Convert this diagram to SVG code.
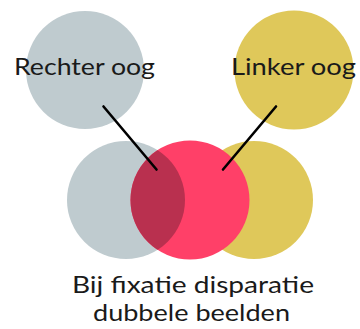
<svg xmlns="http://www.w3.org/2000/svg" width="360" height="329" viewBox="0 0 360 329">
<style>
.gray{fill:#BFCBCF}
.yellow{fill:#DFC85A}
.pink{fill:#FF4068}
.ovl{fill:#B9304F}
.lbl{font-family:Lato,"Open Sans","Liberation Sans",sans-serif;font-size:23px;fill:#1a1a1a}
.conn{stroke:#000;stroke-width:2.6;stroke-linecap:round;fill:none}
</style>
<defs>
<clipPath id="pinkClip"><circle cx="190" cy="200" r="59.5"/></clipPath>
</defs>
<rect width="360" height="329" fill="#fff"/>
<g id="right-eye">
<circle class="gray" cx="85" cy="70" r="59"/>
</g>
<g id="left-eye">
<circle class="yellow" cx="294" cy="70" r="59.5"/>
</g>
<g id="fused-gray">
<circle class="gray" cx="126" cy="200" r="59"/>
</g>
<g id="fused-yellow">
<circle class="yellow" cx="254" cy="200" r="59"/>
</g>
<g id="fused-pink">
<circle class="pink" cx="190" cy="200" r="59.5"/>
<circle class="ovl" cx="126" cy="200" r="59" clip-path="url(#pinkClip)"/>
</g>
<g id="connectors">
<line class="conn" x1="103.5" y1="106.5" x2="156.5" y2="169.5"/>
<line class="conn" x1="276" y1="106.5" x2="223" y2="169.5"/>
</g>
<g id="label-right">
<text class="lbl" x="84.5" y="75" text-anchor="middle" textLength="141" lengthAdjust="spacingAndGlyphs">Rechter oog</text>
</g>
<g id="label-left">
<text class="lbl" x="293.5" y="75" text-anchor="middle" textLength="125" lengthAdjust="spacingAndGlyphs">Linker oog</text>
</g>
<g id="caption">
<text class="lbl" x="193" y="293" text-anchor="middle" textLength="242" lengthAdjust="spacingAndGlyphs">Bij fixatie disparatie</text>
<text class="lbl" x="191.5" y="321" text-anchor="middle" textLength="197" lengthAdjust="spacingAndGlyphs">dubbele beelden</text>
</g>
</svg>
